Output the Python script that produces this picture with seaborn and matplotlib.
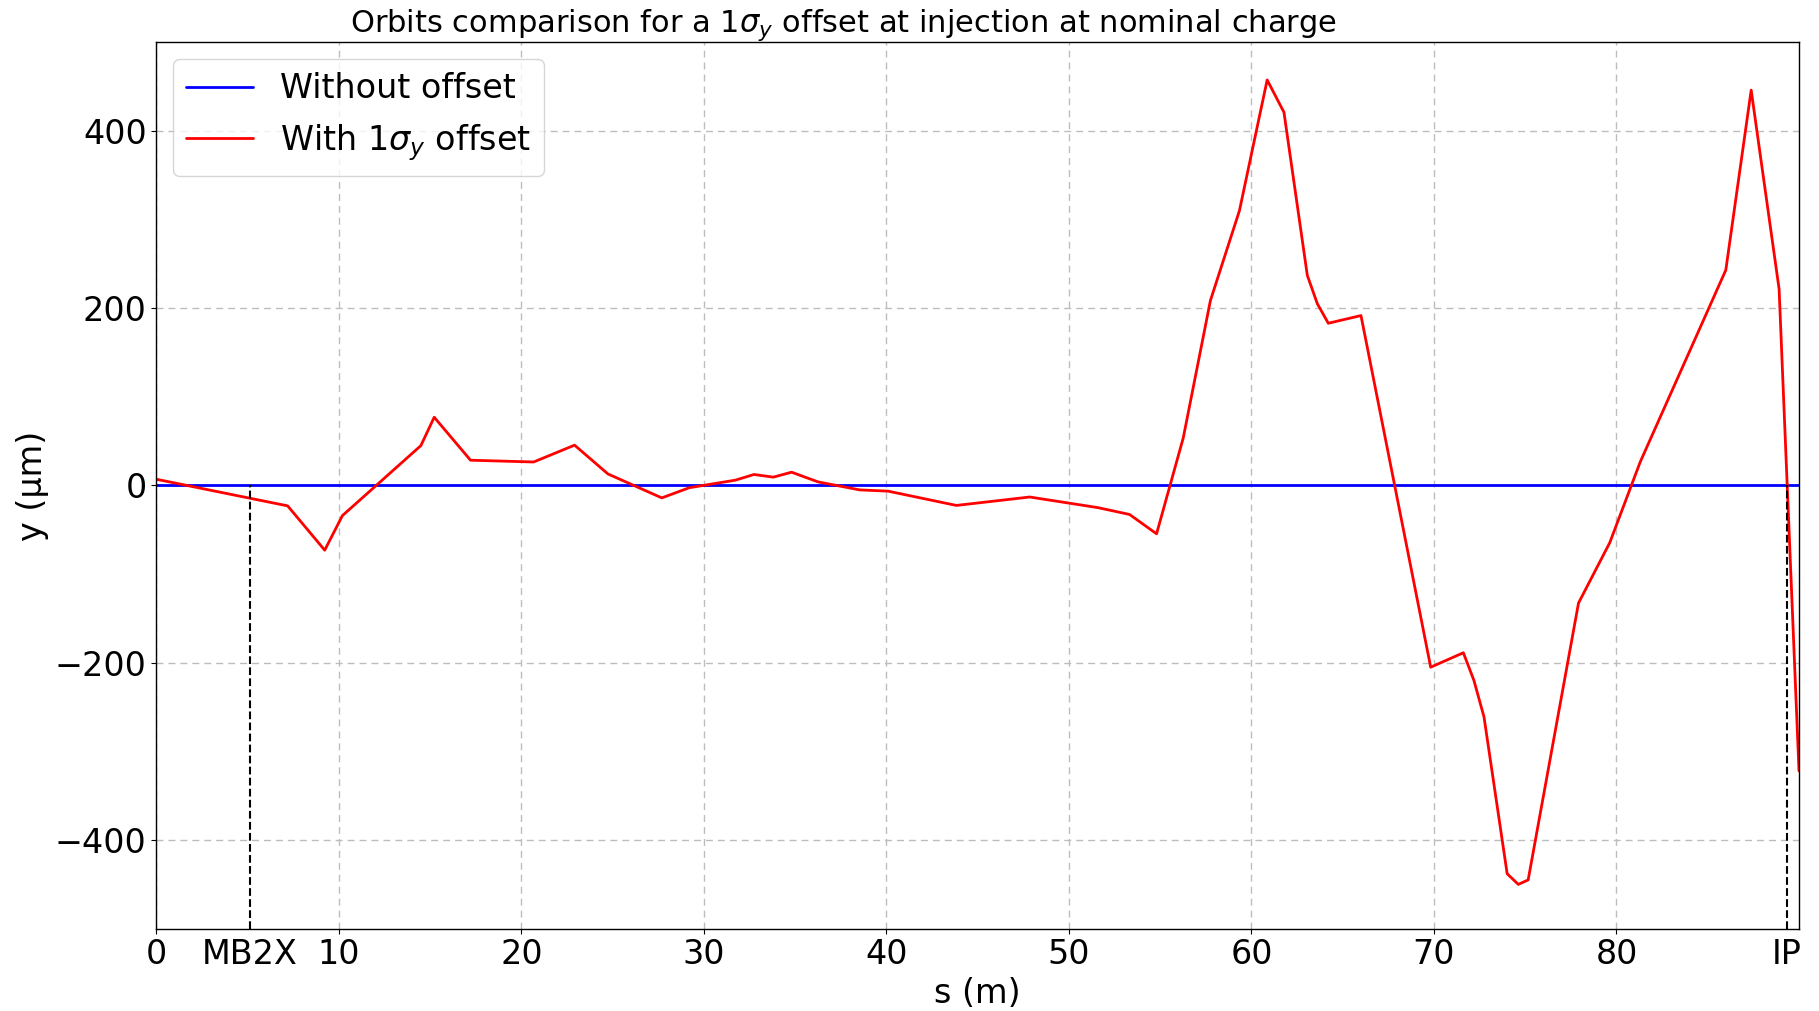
import numpy as np
import pandas as pd
import matplotlib
matplotlib.use("Agg")
import matplotlib.pyplot as plt
import seaborn as sns

# Longitudinal position along the line (m) and vertical orbit (µm)
s_pos = [0.0, 7.19, 9.22, 10.19, 14.49, 15.22, 17.21, 20.67, 22.91, 24.74,
         27.69, 29.2, 31.72, 32.74, 33.8, 34.8, 36.26, 38.54, 40.09, 43.83,
         47.85, 51.59, 53.32, 54.8, 56.26, 57.75, 59.34, 60.86, 61.78, 63.06,
         63.61, 64.21, 66.0, 69.82, 71.61, 72.19, 72.74, 74.01, 74.62, 75.16,
         77.92, 79.63, 81.31, 85.99, 87.38, 88.91, 90.0]
y_offset = [7, -23, -73, -34, 45, 77, 28.5, 26.5, 45.5, 13,
            -14, -2.5, 6, 12.4, 9.4, 15, 4, -5, -6.4, -22.5,
            -13, -25, -32.7, -54.5, 53.5, 208.6, 310, 457.5, 421, 237,
            205, 183, 191.7, -205, -188.7, -220, -261, -438, -450, -445,
            -132.6, -64.6, 27, 243, 446, 221.6, -322]
y_nominal = [0.0] * len(s_pos)

# Element markers on the s axis
marker_pos = [5.1, 89.35]
marker_names = ["MB2X", "IP"]
major_ticks = [0, 10, 20, 30, 40, 50, 60, 70, 80]
y_ticks = [-400, -200, 0, 200, 400]

sns.set_style("ticks")
plt.rcParams["font.family"] = ["DejaVu Sans"]
plt.rcParams["mathtext.fontset"] = "dejavusans"
plt.rcParams["text.color"] = "black"
plt.rcParams["axes.labelcolor"] = "black"
plt.rcParams["xtick.color"] = "black"
plt.rcParams["ytick.color"] = "black"

lbl_nom = "Without offset"
lbl_off = r"With $1\sigma_y$ offset"
df = pd.DataFrame({
    "s": s_pos * 2,
    "y": y_nominal + y_offset,
    "case": [lbl_nom] * len(s_pos) + [lbl_off] * len(s_pos),
})

fig = plt.figure(figsize=(18.19, 10.11), dpi=100)
ax = fig.add_axes([0.086, 0.0814, 0.903, 0.8768])

sns.lineplot(data=df, x="s", y="y", hue="case",
             palette={lbl_nom: "blue", lbl_off: "red"},
             linewidth=2, ax=ax, legend=True, sort=False, estimator=None)

for xm in marker_pos:
    ax.axvline(xm, ymin=0.0, ymax=0.5, color="black", linestyle="--", linewidth=1.5)

ax.set_xlim(0, 90)
ax.set_ylim(-500, 500)
ax.set_xticks(major_ticks)
ax.set_xticks(marker_pos, minor=True)
ax.set_xticklabels(marker_names, minor=True)
ax.set_yticks(y_ticks)
ax.tick_params(axis="both", which="major", labelsize=24, length=3.5, width=0.8,
               direction="out", color="black", labelcolor="black")
ax.tick_params(axis="x", which="minor", labelsize=24, length=0, pad=7, labelcolor="black")

ax.grid(True, which="major", linestyle=(0, (5, 3.6)), color="#bdbdbd", linewidth=1)
for sp in ax.spines.values():
    sp.set_color("black")
    sp.set_linewidth(1.0)

ax.set_xlabel("s (m)", fontsize=24, color="black")
ax.set_ylabel("y (µm)", fontsize=24, color="black")

ax.text(0.118, 0.999, r"Orbits comparison for a $1\sigma_y$ offset at injection at nominal charge",
        transform=ax.transAxes, ha="left", va="bottom", fontsize=22, color="black")

leg = ax.legend(loc="upper left", fontsize=24, frameon=True, framealpha=0.8,
                edgecolor="#cccccc", fancybox=True)
leg.set_title(None)
for t in leg.get_texts():
    t.set_color("black")

fig.savefig("out.png", dpi=100, facecolor="white")
